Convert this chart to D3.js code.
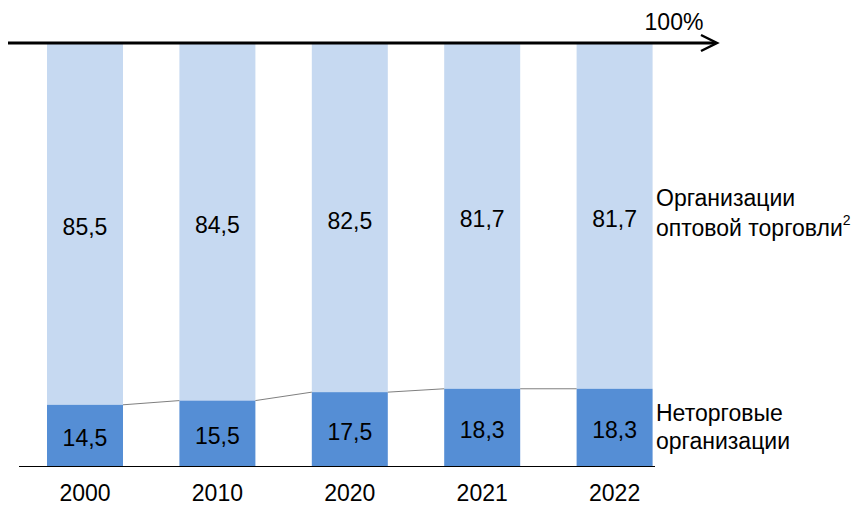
<!DOCTYPE html>
<html><head><meta charset="utf-8">
<script src="https://cdn.jsdelivr.net/npm/d3@7"></script>
<style>body{margin:0;background:#fff}svg{display:block;font-family:Arial,"Liberation Sans",sans-serif}</style>
</head><body>
<svg id="c" width="866" height="506"></svg>
<script>
const years = ["2000","2010","2020","2021","2022"];
const nonTrade = [14.5, 15.5, 17.5, 18.3, 18.3];
const wholesale = [85.5, 84.5, 82.5, 81.7, 81.7];
const seriesNames = ["Неторговые организации", "Организации оптовой торговли"];
const fmt = v => String(v.toFixed(1)).replace(".", ",");

const svg = d3.select("#c");
const x = d3.scaleBand().domain(years).range([-9.4, 709]).paddingInner(0.426).paddingOuter(0.426);
const y = d3.scaleLinear().domain([0, 100]).range([466, 44]);
const colLight = "#C6D9F1", colDark = "#558ED5";
const FS = 23;

const data = years.map((yr, i) => ({yr, a: nonTrade[i], b: wholesale[i]}));

svg.selectAll("rect.b").data(data).join("rect")
  .attr("x", d => x(d.yr)).attr("width", x.bandwidth())
  .attr("y", d => y(d.a + d.b)).attr("height", d => y(d.a) - y(d.a + d.b))
  .attr("fill", colLight);
svg.selectAll("rect.a").data(data).join("rect")
  .attr("x", d => x(d.yr)).attr("width", x.bandwidth())
  .attr("y", d => y(d.a)).attr("height", d => y(0) - y(d.a))
  .attr("fill", colDark);

const conn = data.slice(0, -1).map((d, i) => [d, data[i + 1]]);
svg.selectAll("line.conn").data(conn).join("line")
  .attr("x1", p => x(p[0].yr) + x.bandwidth()).attr("y1", p => y(p[0].a))
  .attr("x2", p => x(p[1].yr)).attr("y2", p => y(p[1].a))
  .attr("stroke", "#7f7f7f").attr("stroke-width", 1);

svg.selectAll("text.vb").data(data).join("text")
  .attr("x", d => x(d.yr) + x.bandwidth() / 2)
  .attr("y", d => (y(d.a) + y(d.a + d.b)) / 2 + 11)
  .attr("text-anchor", "middle")
  .attr("font-size", FS).attr("fill", "#000").text(d => fmt(d.b));
svg.selectAll("text.va").data(data).join("text")
  .attr("x", d => x(d.yr) + x.bandwidth() / 2)
  .attr("y", d => (y(d.a) + y(0)) / 2 + 11)
  .attr("text-anchor", "middle")
  .attr("font-size", FS).attr("fill", "#000").text(d => fmt(d.a));

const xAxis = d3.axisBottom(x).tickSize(0).tickPadding(19);
const gx = svg.append("g").attr("transform", `translate(0,${y(0)})`).call(xAxis);
gx.select(".domain").attr("d", "M19,0.5H655").attr("stroke", "#000").attr("stroke-width", 1);
gx.selectAll("text").attr("font-size", FS).attr("fill", "#000").attr("font-family", "Arial, 'Liberation Sans', sans-serif");

const yTop = y(100) - 1;
svg.append("line").attr("x1", 8).attr("x2", 716).attr("y1", yTop).attr("y2", yTop)
  .attr("stroke", "#000").attr("stroke-width", 3);
svg.append("path").attr("d", `M701,${yTop - 8}L717,${yTop}L701,${yTop + 8}`)
  .attr("fill", "none").attr("stroke", "#000").attr("stroke-width", 2.5);
svg.append("text").attr("x", 674).attr("y", 30).attr("text-anchor", "middle")
  .attr("font-size", FS).text("100%");

const lg = svg.append("g").attr("font-size", FS).attr("fill", "#000");
lg.append("text").attr("x", 656).attr("y", 206).text("Организации");
const t2 = lg.append("text").attr("x", 656).attr("y", 236);
t2.append("tspan").text("оптовой торговли");
t2.append("tspan").attr("font-size", 14).attr("dy", -11).text("2");
lg.append("text").attr("x", 656).attr("y", 421).text("Неторговые");
lg.append("text").attr("x", 656).attr("y", 449).text("организации");
</script>
</body></html>
